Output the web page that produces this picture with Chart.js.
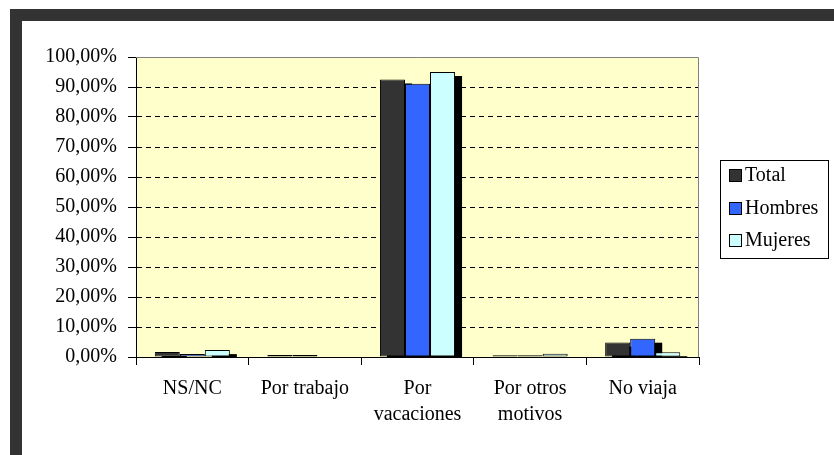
<!DOCTYPE html>
<html>
<head>
<meta charset="utf-8">
<script src="https://cdn.jsdelivr.net/npm/chart.js@4"></script>
<style>
    html, body { margin: 0; padding: 0; background: #fff; }
    #wrap { position: relative; width: 834px; height: 455px; overflow: hidden; }
    #frame { position: absolute; left: 10px; top: 9px; right: 0; bottom: 0;
        border-top: 12px solid #333; border-left: 12px solid #333; background: #fff; }
    #chart { position: absolute; left: 0; top: 0; }
</style>
</head>
<body>
<div id="wrap">
    <div id="frame"></div>
    <canvas id="chart" width="834" height="455"></canvas>
</div>
<script>
var categories = ['NS/NC', 'Por trabajo', ['Por', 'vacaciones'], ['Por otros', 'motivos'], 'No viaja'];
var seriesNames = ['Total', 'Hombres', 'Mujeres'];
var totalValues = [1.7, 0.7, 92.5, 0.6, 4.8];
var hombresValues = [1.0, 0.7, 91.1, 0.6, 6.1];
var mujeresValues = [2.3, 0.0, 95.0, 1.1, 1.6];
var yTicks = [0, 10, 20, 30, 40, 50, 60, 70, 80, 90, 100];

var seriesColors = ['#333333', '#3366ff', '#ccffff'];
var serif = "'Liberation Serif', 'Times New Roman', serif";

Chart.defaults.font.family = serif;
Chart.defaults.font.size = 20;
Chart.defaults.color = '#000';

// yellow plot background + gray border
var plotBackground = {
    id: 'plotBackground',
    beforeDraw: function (chart) {
        var a = chart.chartArea;
        var ctx = chart.ctx;
        ctx.save();
        ctx.fillStyle = '#ffffcc';
        ctx.fillRect(a.left, a.top, a.right - a.left, a.bottom - a.top);
        ctx.restore();
    },
    afterDraw: function (chart) {
        var a = chart.chartArea;
        var ctx = chart.ctx;
        ctx.save();
        ctx.strokeStyle = '#808080';
        ctx.lineWidth = 1;
        ctx.beginPath();
        ctx.moveTo(a.left, a.top + 0.5);
        ctx.lineTo(a.right - 0.5, a.top + 0.5);
        ctx.lineTo(a.right - 0.5, a.bottom);
        ctx.stroke();
        ctx.restore();
    }
};

// black drop shadow behind every bar, like the Excel original
var barShadow = {
    id: 'barShadow',
    beforeDatasetsDraw: function (chart) {
        var a = chart.chartArea;
        var ctx = chart.ctx;
        ctx.save();
        ctx.beginPath();
        ctx.rect(a.left, a.top, a.right - a.left, a.bottom - a.top);
        ctx.clip();
        ctx.fillStyle = '#000';
        chart.data.datasets.forEach(function (ds, i) {
            chart.getDatasetMeta(i).data.forEach(function (el) {
                var h = el.base - el.y;
                if (h <= 0) return;
                ctx.fillRect(el.x - el.width / 2 + 7, el.y + 4, el.width, h);
            });
        });
        ctx.restore();
    }
};

// boxed legend on the right
var boxLegend = {
    id: 'boxLegend',
    afterDraw: function (chart) {
        var ctx = chart.ctx;
        ctx.save();
        ctx.strokeStyle = '#000';
        ctx.lineWidth = 1;
        ctx.strokeRect(720.5, 160.5, 108, 98);
        ctx.font = '20px ' + serif;
        ctx.textBaseline = 'middle';
        chart.data.datasets.forEach(function (ds, i) {
            var cy = 175 + i * 32.5;
            ctx.fillStyle = ds.backgroundColor;
            ctx.fillRect(729, Math.round(cy - 6), 12, 12);
            ctx.strokeRect(729.5, Math.round(cy - 6) + 0.5, 12, 12);
            ctx.fillStyle = '#000';
            ctx.fillText(ds.label, 745, cy + 1);
        });
        ctx.restore();
    }
};

var datasets = [totalValues, hombresValues, mujeresValues].map(function (vals, i) {
    return {
        label: seriesNames[i],
        data: vals,
        backgroundColor: seriesColors[i],
        borderColor: '#000',
        borderWidth: 1,
        borderSkipped: false,
        categoryPercentage: 0.667,
        barPercentage: 1.0
    };
});

new Chart(document.getElementById('chart'), {
    type: 'bar',
    data: { labels: categories, datasets: datasets },
    plugins: [plotBackground, barShadow, boxLegend],
    options: {
        responsive: false,
        animation: false,
        layout: { padding: { left: 0, top: 57, right: 135, bottom: 0 } },
        plugins: { legend: { display: false }, tooltip: { enabled: false } },
        scales: {
            x: {
                grid: { display: true, drawOnChartArea: false, drawTicks: true, tickLength: 8, color: '#000', offset: true },
                border: { display: true, color: '#000', width: 1 },
                ticks: { maxRotation: 0, autoSkip: false, padding: 10, font: { size: 20, lineHeight: 1.33 } },
                afterFit: function (s) { s.height = 98; }
            },
            y: {
                min: 0,
                max: 100,
                afterBuildTicks: function (s) { s.ticks = yTicks.map(function (v) { return { value: v }; }); },
                grid: {
                    color: function (c) { return (c.tick && (c.tick.value === 0 || c.tick.value === 100)) ? 'rgba(0,0,0,0)' : '#000'; },
                    tickColor: '#000',
                    tickLength: 8,
                    lineWidth: 1
                },
                border: { display: true, color: '#000', width: 1, dash: [5, 4] },
                ticks: {
                    padding: 11,
                    font: { size: 20 },
                    callback: function (v) { return v.toFixed(2).replace('.', ',') + '%'; }
                },
                afterFit: function (s) { s.width = 136; }
            }
        }
    }
});
</script>
</body>
</html>
